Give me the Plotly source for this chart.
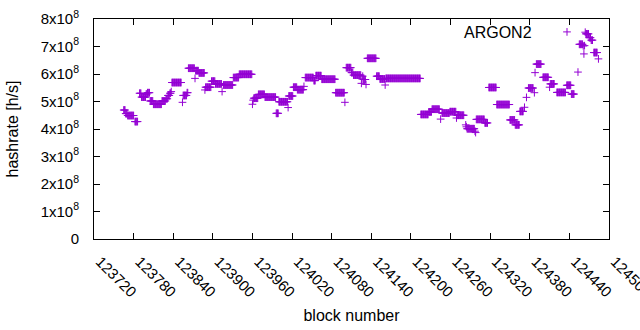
import numpy as np
import plotly.graph_objects as go

# Runs of consecutive blocks sharing the same estimated hashrate (x1e8 h/s)
run_start = [123765, 123768, 123771, 123782, 123789, 123792, 123799, 123801, 123805, 123810,
             123823, 123829, 123832, 123835, 123837, 123838, 123854, 123855, 123861, 123863,
             123873, 123874, 123879, 123888, 123889, 123898, 123904, 123914, 123916, 123931,
             123940, 123960, 123961, 123962, 123969, 123979, 123996, 124000, 124014, 124015,
             124022, 124028, 124038, 124040, 124053, 124056, 124065, 124086, 124100, 124102,
             124110, 124113, 124125, 124126, 124127, 124128, 124132, 124134, 124148, 124153,
             124161, 124162, 124215, 124227, 124232, 124245, 124247, 124259, 124269, 124270,
             124283, 124284, 124285, 124297, 124298, 124299, 124312, 124318, 124330, 124350,
             124358, 124365, 124372, 124375, 124378, 124387, 124388, 124390, 124400, 124410,
             124411, 124421, 124436, 124443, 124453, 124455, 124461, 124462, 124463, 124464,
             124465, 124470, 124473, 124477, 124484]
run_end = [123767, 123770, 123780, 123786, 123791, 123798, 123800, 123804, 123809, 123822,
           123828, 123831, 123834, 123836, 123837, 123852, 123854, 123860, 123862, 123872,
           123873, 123878, 123887, 123888, 123897, 123903, 123913, 123914, 123930, 123939,
           123959, 123960, 123961, 123968, 123978, 123995, 123999, 124013, 124014, 124021,
           124027, 124037, 124038, 124052, 124055, 124064, 124085, 124099, 124100, 124109,
           124112, 124124, 124125, 124126, 124127, 124131, 124132, 124147, 124152, 124160,
           124161, 124214, 124226, 124231, 124243, 124245, 124258, 124268, 124269, 124280,
           124283, 124284, 124296, 124297, 124298, 124311, 124316, 124329, 124349, 124357,
           124364, 124370, 124372, 124375, 124385, 124387, 124388, 124397, 124408, 124410,
           124417, 124434, 124442, 124447, 124453, 124460, 124461, 124462, 124463, 124464,
           124469, 124472, 124475, 124482, 124484]
run_value = [4.69, 4.56, 4.49, 4.27, 5.30, 5.16, 5.27, 5.32, 5.02, 4.90,
             5.02, 5.10, 5.22, 5.30, 5.36, 5.69, 4.97, 5.22, 5.32, 6.21,
             5.84, 6.12, 6.04, 5.42, 5.52, 5.74, 5.64, 5.36, 5.60, 5.87,
             5.99, 4.90, 5.05, 5.12, 5.26, 5.16, 4.57, 4.99, 4.78, 5.20,
             5.52, 5.43, 5.55, 5.87, 5.76, 5.94, 5.81, 5.32, 4.97, 6.23,
             6.05, 5.96, 5.66, 5.82, 5.92, 5.80, 5.62, 6.57, 5.92, 5.82,
             5.60, 5.84, 4.53, 4.62, 4.72, 4.36, 4.58, 4.63, 4.40, 4.50,
             4.15, 4.08, 4.01, 3.92, 3.87, 4.35, 4.22, 5.51, 4.89, 4.33,
             4.15, 4.64, 4.79, 5.15, 5.49, 5.32, 6.05, 6.36, 5.88, 5.52,
             5.64, 5.33, 5.59, 5.27, 6.07, 7.08, 7.02, 6.73, 7.03, 7.52,
             7.46, 7.32, 7.23, 6.78, 6.55]
value_scale = 1e8
series_name = "ARGON2"

x_ticks = list(range(123720, 124501, 60))
y_tickvals = [i * 1e8 for i in range(9)]
y_ticktext = ["0"] + [f"{i}x10<sup>8</sup>" for i in range(1, 9)]

# expand runs into one point per block
blocks, rates = [], []
for s, e, v in zip(run_start, run_end, run_value):
    for b in range(s, e + 1):
        blocks.append(b)
        rates.append(v * value_scale)

PURPLE = "#9400D3"
FONT = "Liberation Sans, Arial, sans-serif"

fig = go.Figure()
fig.add_trace(go.Scatter(
    x=blocks, y=rates, mode="markers", name=" ",
    marker=dict(symbol="cross-thin", size=5.5, color=PURPLE,
                line=dict(color=PURPLE, width=1)),
    showlegend=True,
))

axis_common = dict(
    showline=True, linecolor="black", linewidth=1, mirror="ticks",
    ticks="inside", ticklen=6, tickcolor="black", tickwidth=1,
    showgrid=False, zeroline=False,
)

fig.update_layout(
    width=640, height=330,
    margin=dict(l=94, r=31, t=19, b=91),
    paper_bgcolor="white", plot_bgcolor="white",
    font=dict(family=FONT, size=15, color="black"),
    showlegend=True,
    xaxis=dict(range=[123720, 124500], tickvals=x_ticks, tickformat="d",
               tickangle=45, tickfont=dict(size=15), ticklabelstandoff=7,
               ticklabelshift=6, ticklabeloverflow="allow",
               title=dict(text="block number", font=dict(size=16), standoff=10),
               automargin=False, **axis_common),
    yaxis=dict(range=[0, 8e8], tickvals=y_tickvals, ticktext=y_ticktext,
               tickfont=dict(size=15), ticklabelstandoff=11,
               title=dict(text="hashrate [h/s]", font=dict(size=16), standoff=18),
               automargin=False, **axis_common),
    legend=dict(
        orientation="v", x=(547 - 94) / 515, y=(239 - 32) / 220,
        xanchor="left", yanchor="middle",
        bgcolor="rgba(0,0,0,0)", borderwidth=0,
        font=dict(size=16),
    ),
    annotations=[dict(
        text=series_name, xref="paper", yref="paper",
        x=(534 - 94) / 515, y=(239 - 32) / 220,
        xanchor="right", yanchor="middle", showarrow=False,
        font=dict(size=16),
    )],
)

fig.write_html("out.html", config={"displayModeBar": False},
               post_script="document.body.style.margin='0';")
